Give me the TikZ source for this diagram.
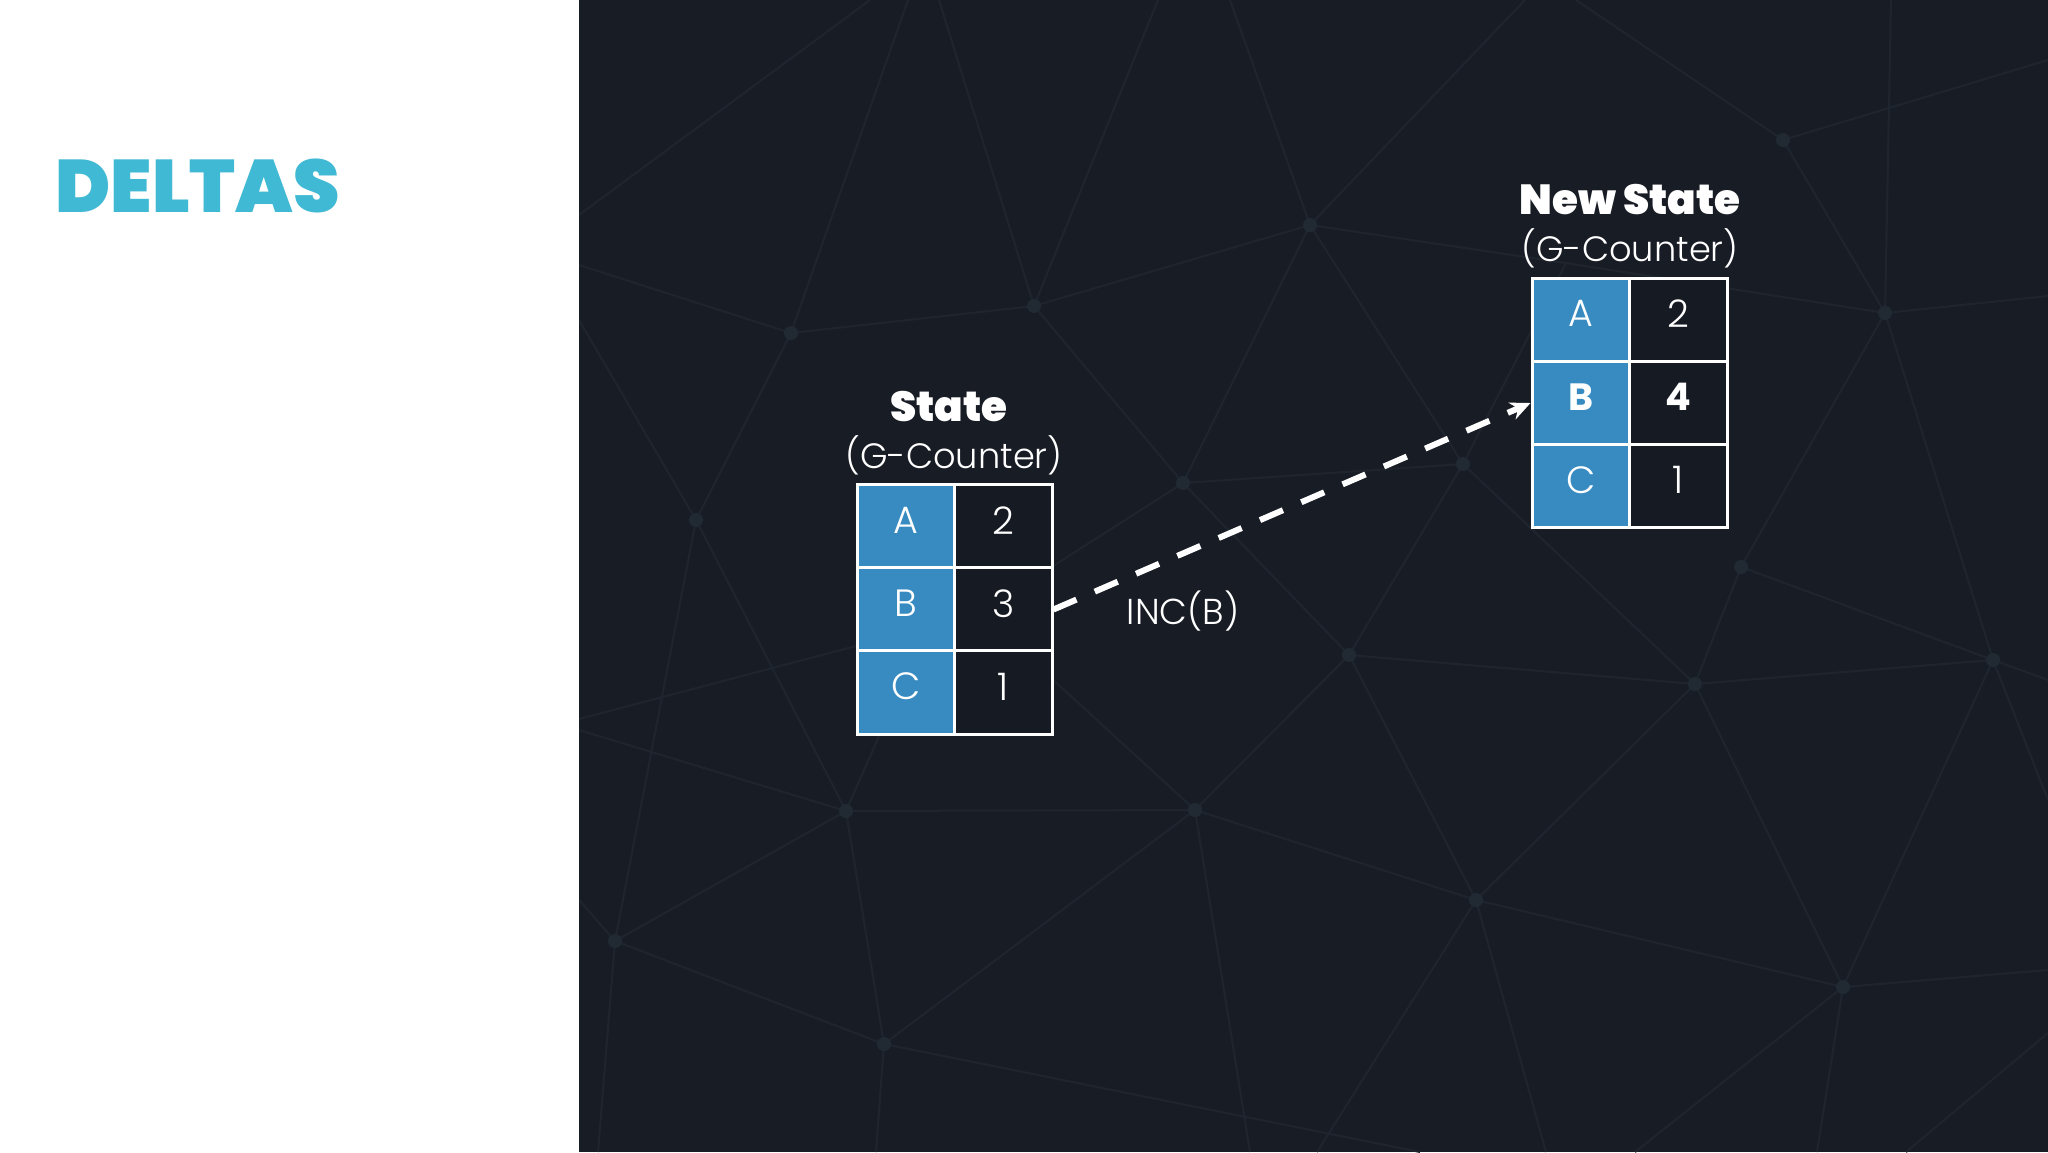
\documentclass[tikz,border=0pt]{standalone}
\usepackage{fontspec}
\setmainfont{Poppins}
\newfontfamily\heavyfont{Poppins Black}
\newfontfamily\lightfont{Poppins Light}
\usetikzlibrary{arrows.meta}
\definecolor{bgdark}{RGB}{24,28,37}
\definecolor{celldark}{RGB}{22,26,34}
\definecolor{cellblue}{RGB}{56,139,192}
\definecolor{titlecyan}{RGB}{64,185,212}
\definecolor{meshline}{RGB}{31,37,46}
\definecolor{meshdot}{RGB}{33,42,50}
\begin{document}
\begin{tikzpicture}[x=0.5pt,y=-0.5pt,
  cellk/.style={draw=white, line width=1.5pt, fill=cellblue, minimum width=48.75pt,
    minimum height=41.6pt, inner sep=0pt, text=white, text depth=6pt,
    font=\lightfont\fontsize{19}{19}\selectfont},
  cellv/.style={cellk, fill=celldark},
  boldcell/.style={font=\bfseries\fontsize{19}{19}\selectfont},
  headbold/.style={text=white, inner sep=0pt, anchor=base,
    font=\heavyfont\fontsize{21}{21}\selectfont},
  headlight/.style={text=white, inner sep=0pt, anchor=base,
    font=\lightfont\fontsize{17.6}{17.6}\selectfont},
  meshedge/.style={draw=meshline, line width=1pt},
  deltaarrow/.style={draw=white, line width=3pt, dash pattern=on 12.5pt off 10pt,
    -{Stealth[length=10pt,width=9pt]}}]
% panels
\fill[white] (0,0) rectangle (579,1152);
\fill[bgdark] (579,0) rectangle (2048,1152);
\useasboundingbox (0,0) rectangle (2048,1152);
% mesh background
\begin{scope}
\clip (579,0) rectangle (2048,1152);
\coordinate (m1) at (791,333);
\coordinate (m2) at (1034,306);
\coordinate (m3) at (1310,225);
\coordinate (m4) at (1183,483);
\coordinate (m5) at (696,520);
\coordinate (m6) at (1463,464);
\coordinate (m7) at (1783,140);
\coordinate (m8) at (1885,313);
\coordinate (m9) at (1741,567);
\coordinate (m10) at (1349,655);
\coordinate (m11) at (1695,684);
\coordinate (m12) at (1993,660);
\coordinate (m13) at (846,811);
\coordinate (m14) at (1195,810);
\coordinate (m15) at (1476,900);
\coordinate (m16) at (1843,987);
\coordinate (m17) at (615,941);
\coordinate (m18) at (884,1044);
\coordinate (m19) at (1566,263);
\path[meshedge]
  (870,0) -- (579,215)
  (579,265) -- (m1) -- (m2) -- (m3)
  (m1) -- (908,0)  (939,0) -- (m2)  (1158,0) -- (m2)
  (m1) -- (m5)  (m2) -- (m4)  (m3) -- (m4)  (m3) -- (m6)
  (m3) -- (1525,0)  (m3) -- (1230,0)  (m3) -- (m19) -- (m8)
  (m7) -- (1576,0)  (m7) -- (m8)  (m7) -- (2048,60)  (m8) -- (1891,0)
  (m8) -- (2048,296)  (m8) -- (m9)  (m8) -- (m12)
  (m9) -- (m11)  (m9) -- (m12)  (m6) -- (m4)  (m6) -- (m10)  (m6) -- (m11)
  (m6) -- (m19)  (m4) -- (m10)  (m4) -- (1000,600)
  (m10) -- (m11)  (m10) -- (m15)  (m10) -- (m14)  (m11) -- (m15)
  (m11) -- (m16)  (m11) -- (m12)  (m12) -- (m16)  (m15) -- (m16)
  (m14) -- (m15)  (m16) -- (2048,970)  (m16) -- (1635,1152)  (m16) -- (1817,1152)
  (m15) -- (1546,1152)  (m15) -- (1317,1152)
  (m12) -- (2048,680)  (m12) -- (2048,800)  (2048,1033) -- (1906,1152)
  (m13) -- (m14)  (m13) -- (m17)  (m13) -- (m18)  (m17) -- (m18)  (m18) -- (m14)
  (m13) -- (579,730)  (m13) -- (895,700)  (m14) -- (1050,677)  (m14) -- (1250,1152)
  (m17) -- (598,1152)  (m18) -- (876,1152)  (m18) -- (1420,1152)
  (579,719) -- (856,646)  (m17) -- (579,900)  (579,320) -- (m5)
  (m5) -- (m17)  (m5) -- (m13);
\foreach \v in {m1,m2,m3,m4,m5,m6,m7,m8,m9,m10,m11,m12,m13,m14,m15,m16,m17,m18}
  \fill[meshdot] (\v) circle (7);
\end{scope}
% title
\node[anchor=base west, inner sep=0pt, text=titlecyan,
  font=\heavyfont\fontsize{37.2}{37.2}\selectfont] (title) at (55,212) {DELTAS};
% left table
\node[headbold] (lhead) at (949,421) {State};
\node[headlight] (lsub) at (954,468) {(G-Counter)};
\node[cellk] (la) at (905.75,526.5) {A};
\node[cellv] (lav) at (1003.25,526.5) {2};
\node[cellk] (lb) at (905.75,609.5) {B};
\node[cellv] (lbv) at (1003.25,609.5) {3};
\node[cellk] (lc) at (905.75,692.5) {C};
\node[cellv] (lcv) at (1003.25,692.5) {1};
% right table
\node[headbold] (rhead) at (1630,214) {New State};
\node[headlight] (rsub) at (1630,261) {(G-Counter)};
\node[cellk] (ra) at (1580.75,319.7) {A};
\node[cellv] (rav) at (1678.25,319.7) {2};
\node[cellk, boldcell] (rb) at (1580.75,403) {B};
\node[cellv, boldcell] (rbv) at (1678.25,403) {4};
\node[cellk] (rc) at (1580.75,486.3) {C};
\node[cellv] (rcv) at (1678.25,486.3) {1};
% arrow
\draw[deltaarrow] (lbv.east) -- (rb.west);
\node[text=white, inner sep=0pt, font=\lightfont\fontsize{18}{18}\selectfont]
  (inc) at (1183,611) {INC(B)};
\end{tikzpicture}
\end{document}
